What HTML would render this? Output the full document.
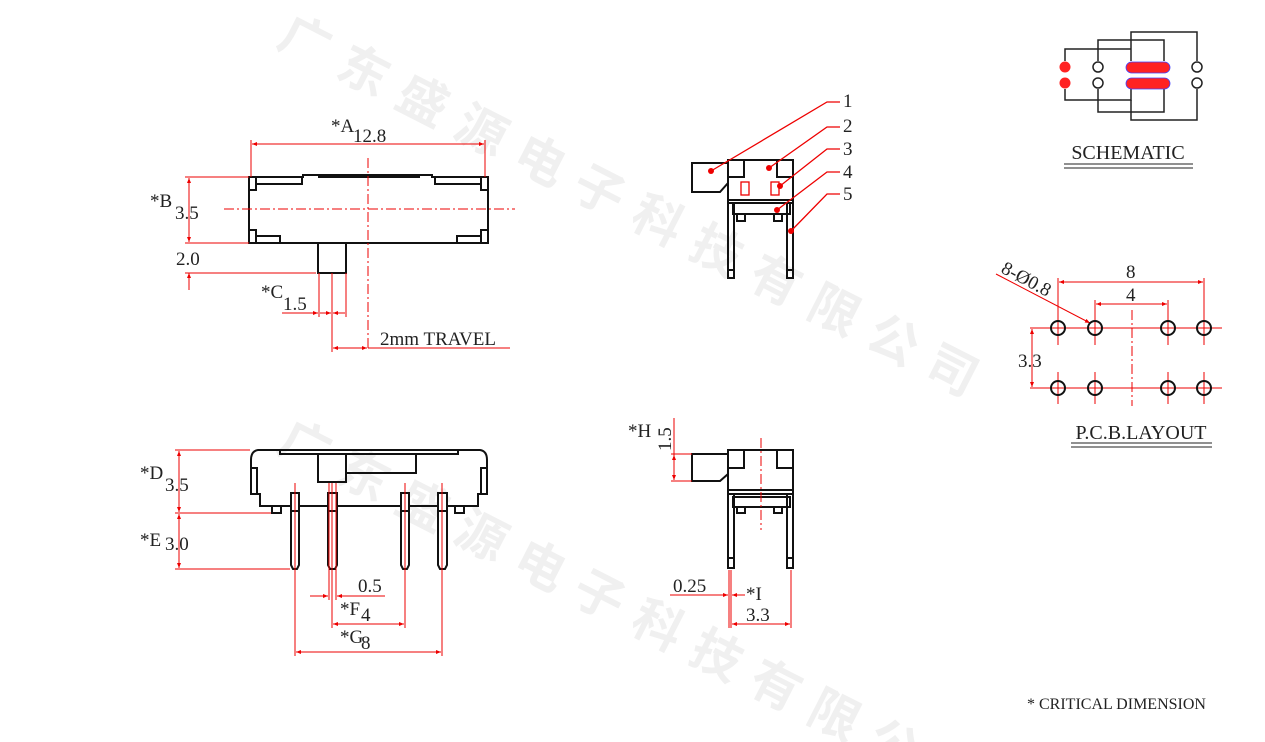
<!DOCTYPE html>
<html><head><meta charset="utf-8"><style>
html,body{margin:0;padding:0;background:#fff;width:1265px;height:742px;overflow:hidden;}
svg{display:block;}
text{font-family:"Liberation Serif",serif;fill:#222;}
</style></head><body>
<svg width="1265" height="742" viewBox="0 0 1265 742" xmlns="http://www.w3.org/2000/svg">
<defs>
<marker id="a" viewBox="0 0 10 10" refX="10" refY="5" markerWidth="7" markerHeight="5" orient="auto-start-reverse"><path d="M0,1 L10,5 L0,9 z" fill="#e00"/></marker>
</defs>
<!-- watermark -->
<g font-size="50" font-weight="bold">
<text x="275" y="45" transform="rotate(27 275 45)" style="font-family:'Noto Sans CJK SC',sans-serif;fill:#f0f0f0;letter-spacing:16px">广东盛源电子科技有限公司</text>
<text x="275" y="450" transform="rotate(27 275 450)" style="font-family:'Noto Sans CJK SC',sans-serif;fill:#f0f0f0;letter-spacing:16px">广东盛源电子科技有限公司</text>
</g>

<!-- TOP VIEW -->
<g stroke="#111" stroke-width="2" fill="none">
<path d="M249,177 H303 V175 H432 V177 H488 V243 H249 Z"/>
<path d="M256,177 V190 H249 M481,177 V190 H488 M249,230 H256 V243 M488,230 H481 V243"/>
<path d="M256,184 H302 V177 M481,184 H435 V177 M256,236 H280 V243 M481,236 H457 V243"/>
<path d="M318,177 H420"/>
<rect x="318" y="243" width="28" height="30"/>
</g>
<g stroke="#e00" stroke-width="1" fill="none">
<line x1="368" y1="158" x2="368" y2="350" stroke-dasharray="10,3,2,3"/>
<line x1="224" y1="209" x2="515" y2="209" stroke-dasharray="10,3,2,3"/>
<line x1="251" y1="140" x2="251" y2="177"/><line x1="485" y1="140" x2="485" y2="177"/>
<line x1="252" y1="144" x2="484" y2="144" marker-start="url(#a)" marker-end="url(#a)"/>
<line x1="185" y1="177" x2="249" y2="177"/><line x1="185" y1="243" x2="249" y2="243"/>
<line x1="189" y1="178" x2="189" y2="242" marker-start="url(#a)" marker-end="url(#a)"/>
<line x1="185" y1="273" x2="316" y2="273"/>
<line x1="189" y1="273" x2="189" y2="290" marker-start="url(#a)"/>
<line x1="319" y1="273" x2="319" y2="317"/><line x1="332" y1="273" x2="332" y2="352"/><line x1="346" y1="273" x2="346" y2="317"/>
<line x1="282" y1="313" x2="318" y2="313" marker-end="url(#a)"/><line x1="320" y1="313" x2="331" y2="313" marker-end="url(#a)"/><line x1="345" y1="313" x2="333" y2="313" marker-end="url(#a)"/>
<line x1="333" y1="348" x2="367" y2="348" marker-start="url(#a)" marker-end="url(#a)"/>
<line x1="368" y1="348" x2="510" y2="348"/>
</g>
<g font-size="19">
<text x="331" y="132">*A</text><text x="353" y="142">12.8</text>
<text x="150" y="207">*B</text><text x="175" y="219">3.5</text>
<text x="176" y="265">2.0</text>
<text x="261" y="298">*C</text><text x="283" y="310">1.5</text>
<text x="380" y="345">2mm TRAVEL</text>
</g>

<!-- FRONT VIEW -->
<g stroke="#111" stroke-width="2" fill="none">
<path d="M258,450 H480 Q487,451 487,460 V494 H478 V506 H260 V494 H251 V460 Q251,451 258,450 Z"/>
<path d="M280,450 V454 H458 V450"/>
<rect x="318" y="454" width="28" height="28"/><rect x="346" y="454" width="70" height="19"/>
<path d="M251,468 H257 V494 M487,468 H481 V494"/>
<rect x="272" y="506" width="9" height="7"/><rect x="455" y="506" width="9" height="7"/>
<g fill="#fff">
<path d="M291,493 H299 V565 L297,569 H293 L291,565 Z"/>
<path d="M328,493 H337 V565 L335,569 H330 L328,565 Z"/>
<path d="M401,493 H409 V565 L407,569 H403 L401,565 Z"/>
<path d="M438,493 H447 V565 L445,569 H440 L438,565 Z"/>
</g>
<path d="M291,511 H299 M328,511 H337 M401,511 H409 M438,511 H447"/>
</g>
<g stroke="#e00" stroke-width="1" fill="none">
<line x1="175" y1="450" x2="250" y2="450"/><line x1="175" y1="513" x2="271" y2="513"/><line x1="175" y1="569" x2="290" y2="569"/>
<line x1="179" y1="451" x2="179" y2="512" marker-start="url(#a)" marker-end="url(#a)"/>
<line x1="179" y1="514" x2="179" y2="568" marker-start="url(#a)" marker-end="url(#a)"/>
<line x1="295" y1="483" x2="295" y2="656"/><line x1="329" y1="483" x2="329" y2="600"/><line x1="332" y1="483" x2="332" y2="628"/><line x1="336" y1="483" x2="336" y2="600"/>
<line x1="405" y1="483" x2="405" y2="628"/><line x1="442" y1="483" x2="442" y2="656"/>
<line x1="310" y1="596" x2="328" y2="596" marker-end="url(#a)"/><line x1="385" y1="596" x2="337" y2="596" marker-end="url(#a)"/>
<line x1="333" y1="624" x2="404" y2="624" marker-start="url(#a)" marker-end="url(#a)"/>
<line x1="296" y1="652" x2="441" y2="652" marker-start="url(#a)" marker-end="url(#a)"/>
</g>
<g font-size="19">
<text x="140" y="479">*D</text><text x="165" y="491">3.5</text>
<text x="140" y="546">*E</text><text x="165" y="550">3.0</text>
<text x="358" y="592">0.5</text>
<text x="340" y="615">*F</text><text x="361" y="621">4</text>
<text x="340" y="643">*G</text><text x="361" y="649">8</text>
</g>

<!-- SIDE VIEW TOP -->
<g stroke="#111" stroke-width="2" fill="none">
<path d="M692,163 H728 V183 L720,192 H692 Z"/>
<rect x="728" y="160" width="65" height="40"/>
<path d="M728,177 H744 V160 M793,177 H777 V160 M728,200 V203 H793 V200"/>
<rect x="733" y="203" width="57" height="11"/>
<rect x="737" y="214" width="8" height="7"/><rect x="774" y="214" width="8" height="7"/>
<path d="M728,203 V278 H734 V203 M787,203 V278 H793 V203 M728,270 H734 M787,270 H793"/>
</g>
<g stroke="#e00" stroke-width="1.3" fill="none">
<rect x="741" y="182" width="8" height="13"/><rect x="771" y="182" width="8" height="13"/>
<polyline points="711,171 827,102 840,102"/>
<polyline points="769,168 827,127 840,127"/>
<polyline points="780,186 827,149 840,149"/>
<polyline points="777,210 827,172 840,172"/>
<polyline points="791,231 827,194 840,194"/>
</g>
<g fill="#e00"><circle cx="711" cy="171" r="3"/><circle cx="769" cy="168" r="3"/><circle cx="780" cy="186" r="3"/><circle cx="777" cy="210" r="3"/><circle cx="791" cy="231" r="3"/></g>
<g font-size="19"><text x="843" y="107">1</text><text x="843" y="132">2</text><text x="843" y="155">3</text><text x="843" y="178">4</text><text x="843" y="200">5</text></g>

<!-- SIDE VIEW BOTTOM -->
<g stroke="#111" stroke-width="2" fill="none">
<path d="M692,454 H728 V474 L720,481 H692 Z"/>
<rect x="728" y="450" width="65" height="40"/>
<path d="M728,468 H744 V450 M793,468 H777 V450 M728,490 V494 H793 V490"/>
<rect x="733" y="497" width="57" height="10"/>
<rect x="737" y="507" width="8" height="6"/><rect x="774" y="507" width="8" height="6"/>
<path d="M728,494 V568 H734 V494 M787,494 V568 H793 V494 M728,558 H734 M787,558 H793"/>
</g>
<g stroke="#e00" stroke-width="1" fill="none">
<line x1="761" y1="438" x2="761" y2="530" stroke-dasharray="10,3,2,3"/>
<line x1="674" y1="418" x2="674" y2="480"/>
<line x1="671" y1="454" x2="692" y2="454"/><line x1="671" y1="481" x2="692" y2="481"/>
<line x1="674" y1="455" x2="674" y2="480" marker-start="url(#a)" marker-end="url(#a)"/>
<line x1="729" y1="570" x2="729" y2="628"/><line x1="731" y1="570" x2="731" y2="628"/><line x1="791" y1="570" x2="791" y2="628"/>
<line x1="670" y1="595" x2="728" y2="595" marker-end="url(#a)"/><line x1="745" y1="595" x2="732" y2="595" marker-end="url(#a)"/>
<line x1="732" y1="624" x2="790" y2="624" marker-start="url(#a)" marker-end="url(#a)"/>
</g>
<g font-size="19">
<text x="628" y="437">*H</text>
<text x="0" y="0" transform="translate(671,451) rotate(-90)">1.5</text>
<text x="673" y="592">0.25</text>
<text x="746" y="600">*I</text>
<text x="746" y="621">3.3</text>
</g>

<!-- SCHEMATIC -->
<g stroke="#222" stroke-width="1.5" fill="none">
<path d="M1131,61 V32 H1197 V61"/>
<path d="M1098,61 V40 H1164 V61"/>
<path d="M1065,61 V49 H1131"/>
<path d="M1065,89 V100 H1131 V89"/>
<path d="M1098,89 V112 H1164 V89"/>
<path d="M1131,100 V120 H1197 V89"/>
<circle cx="1098" cy="67" r="5"/><circle cx="1098" cy="83" r="5"/>
<circle cx="1197" cy="67" r="5"/><circle cx="1197" cy="83" r="5"/>
</g>
<g fill="#f22"><circle cx="1065" cy="67" r="5.5"/><circle cx="1065" cy="83" r="5.5"/></g>
<rect x="1126" y="62" width="44" height="11" rx="5.5" fill="#f22" stroke="#44f" stroke-width="0.8"/>
<rect x="1126" y="78" width="44" height="11" rx="5.5" fill="#f22" stroke="#44f" stroke-width="0.8"/>
<text x="1128" y="159" font-size="20" text-anchor="middle">SCHEMATIC</text>
<line x1="1064" y1="164" x2="1193" y2="164" stroke="#222" stroke-width="1"/>
<line x1="1064" y1="168" x2="1193" y2="168" stroke="#222" stroke-width="1"/>

<!-- PCB LAYOUT -->
<g stroke="#e00" stroke-width="1" fill="none">
<line x1="1030" y1="328" x2="1222" y2="328"/><line x1="1030" y1="388" x2="1222" y2="388"/>
<line x1="1058" y1="278" x2="1058" y2="345"/><line x1="1204" y1="278" x2="1204" y2="345"/>
<line x1="1095" y1="300" x2="1095" y2="345"/><line x1="1168" y1="300" x2="1168" y2="345"/>
<line x1="1058" y1="372" x2="1058" y2="404"/><line x1="1095" y1="372" x2="1095" y2="404"/><line x1="1168" y1="372" x2="1168" y2="404"/><line x1="1204" y1="372" x2="1204" y2="404"/>
<line x1="1059" y1="282" x2="1203" y2="282" marker-start="url(#a)" marker-end="url(#a)"/>
<line x1="1096" y1="304" x2="1167" y2="304" marker-start="url(#a)" marker-end="url(#a)"/>
<line x1="1132" y1="310" x2="1132" y2="406" stroke-dasharray="10,3,2,3"/>
<line x1="1032" y1="329" x2="1032" y2="387" marker-start="url(#a)" marker-end="url(#a)"/>
<line x1="996" y1="274" x2="1090" y2="323" marker-end="url(#a)"/>
</g>
<g stroke="#111" stroke-width="2" fill="none">
<circle cx="1058" cy="328" r="7"/><circle cx="1095" cy="328" r="7"/><circle cx="1168" cy="328" r="7"/><circle cx="1204" cy="328" r="7"/>
<circle cx="1058" cy="388" r="7"/><circle cx="1095" cy="388" r="7"/><circle cx="1168" cy="388" r="7"/><circle cx="1204" cy="388" r="7"/>
</g>
<g font-size="19">
<text x="1126" y="278">8</text>
<text x="1126" y="301">4</text>
<text x="1018" y="367">3.3</text>
<text x="0" y="0" transform="translate(1000,272) rotate(28)">8-Ø0.8</text>
</g>
<text x="1141" y="439" font-size="20" text-anchor="middle">P.C.B.LAYOUT</text>
<line x1="1071" y1="443" x2="1212" y2="443" stroke="#222" stroke-width="1"/>
<line x1="1071" y1="447" x2="1212" y2="447" stroke="#222" stroke-width="1"/>

<text x="1027" y="709" font-size="16">* CRITICAL  DIMENSION</text>
</svg>
</body></html>
